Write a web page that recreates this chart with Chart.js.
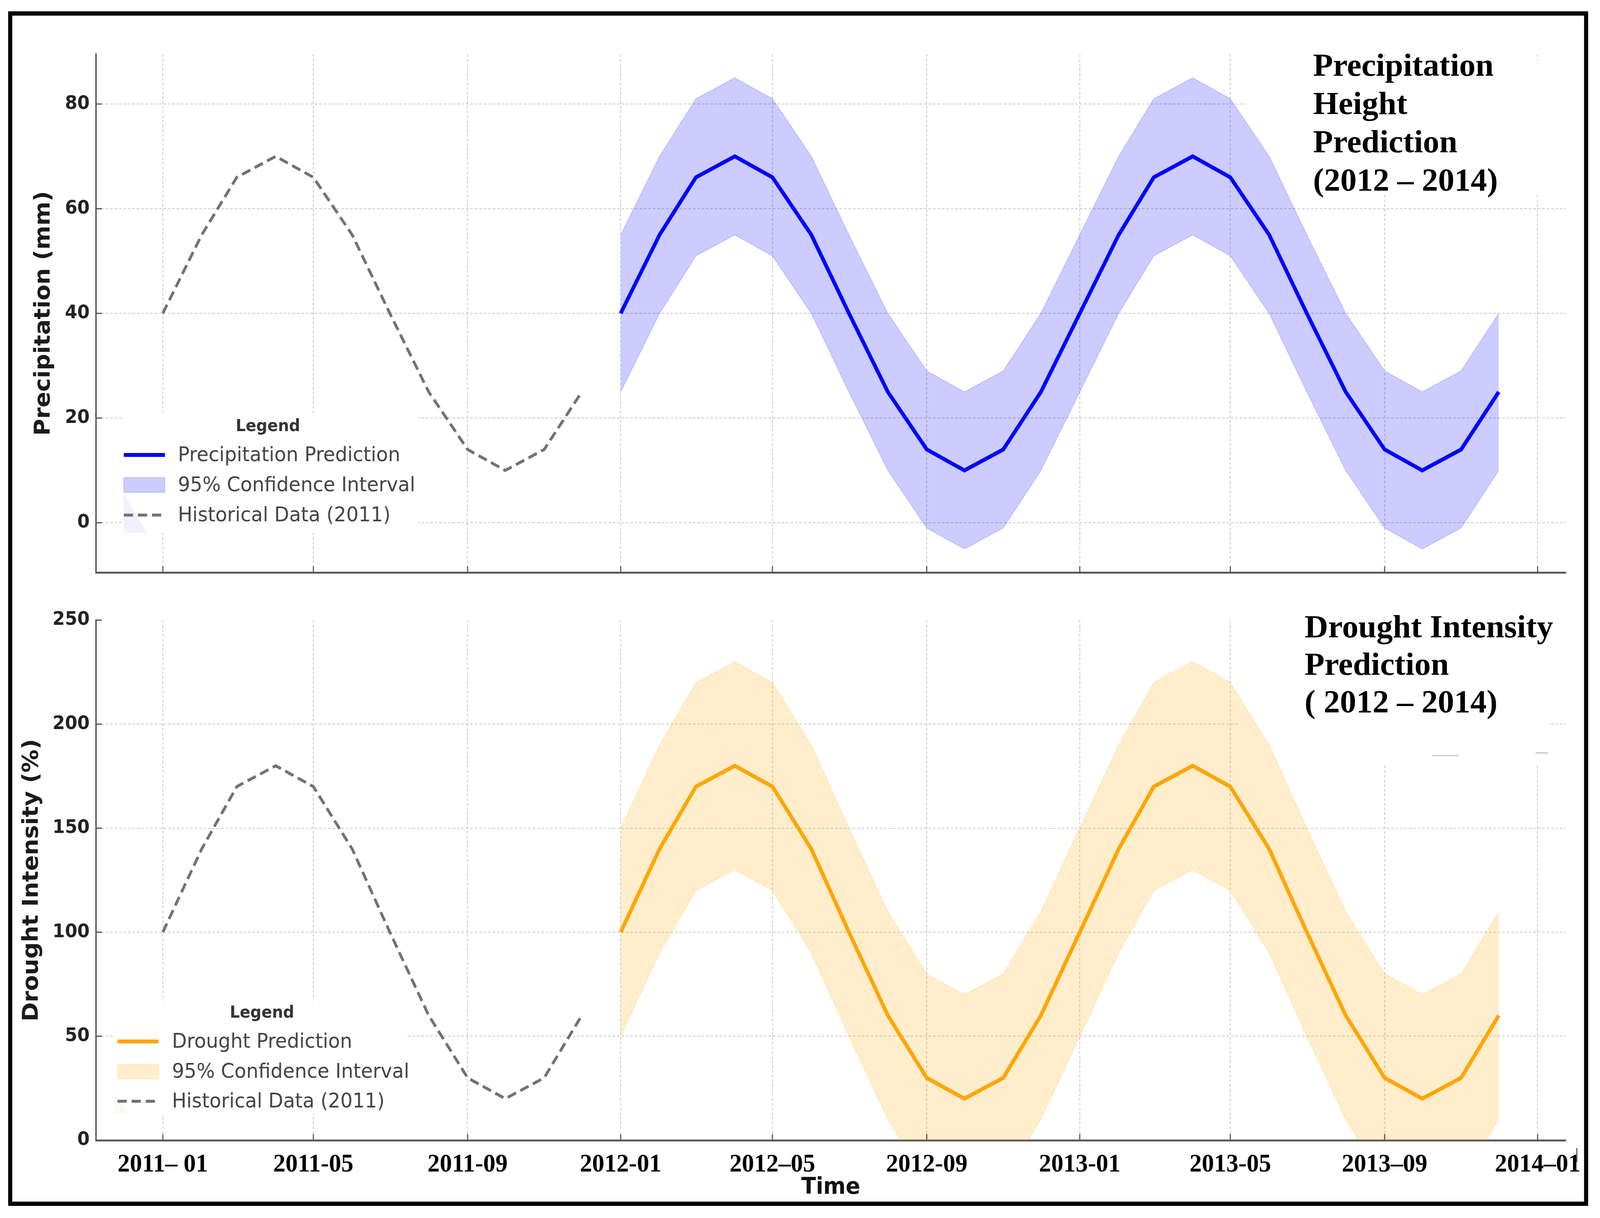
<!DOCTYPE html>
<html><head><meta charset="utf-8">
<script src="https://cdn.jsdelivr.net/npm/chart.js@4.4.0/dist/chart.umd.min.js"></script>
<style>
html,body{margin:0;padding:0;background:#fff;overflow:hidden;}
#wrap{position:absolute;left:0;top:0;width:4317px;height:3119px;transform-origin:0 0;background:#fff;}
#frame{position:absolute;left:22px;top:29px;width:4241px;height:3037px;border:11px solid #000;}
canvas{position:absolute;left:0;}
.note{position:absolute;font-family:'Liberation Serif','Times New Roman',serif;font-weight:bold;font-size:83px;color:#000;white-space:pre;transform:scaleX(1.06);transform-origin:0 0;}
</style></head><body>
<div id="wrap">
<div id="frame"></div>
<canvas id="c1" width="4317" height="1560" style="top:0;width:4317px;height:1560px"></canvas>
<canvas id="c2" width="4317" height="1619" style="top:1500px;width:4317px;height:1619px"></canvas>
<div class="note" style="left:3543px;top:117px;line-height:98px">Precipitation
Height
Prediction
(2012 – 2014)</div>
<div class="note" style="left:3520px;top:1556px;line-height:96px">Drought Intensity
Prediction
( 2012 – 2014)</div>
<div style="position:absolute;left:4253px;top:2940px;width:3px;height:36px;background:#555"></div>
</div>
<script>
// fit the 4317x3119 layout into whatever viewport the browser gives
(function(){
  const w = document.getElementById('wrap');
  const sx = window.innerWidth / 4317, sy = window.innerHeight / 3119;
  w.style.transform = 'scale(' + sx + ',' + sy + ')';
})();

// ---------- data ----------
const histMonths = ['2011-01','2011-02','2011-03','2011-04','2011-05','2011-06','2011-07','2011-08','2011-09','2011-10','2011-11','2011-12'];
const histPrecip = [40,55,66,70,66,55,40,25,14,10,14,25];
const histDrought = [100,140,170,180,170,140,100,60,30,20,30,60];
const predMonths = ['2012-01','2012-02','2012-03','2012-04','2012-05','2012-06','2012-07','2012-08','2012-09','2012-10','2012-11','2012-12',
                    '2013-01','2013-02','2013-03','2013-04','2013-05','2013-06','2013-07','2013-08','2013-09','2013-10','2013-11','2013-12'];
const predPrecip  = [40,55,66,70,66,55,40,25,14,10,14,25, 40,55,66,70,66,55,40,25,14,10,14,25];
const precipUpper = [55,70,81,85,81,70,55,40,29,25,29,40, 55,70,81,85,81,70,55,40,29,25,29,40];
const precipLower = [25,40,51,55,51,40,25,10,-1,-5,-1,10, 25,40,51,55,51,40,25,10,-1,-5,-1,10];
const predDrought  = [100,140,170,180,170,140,100,60,30,20,30,60, 100,140,170,180,170,140,100,60,30,20,30,60];
const droughtUpper = [150,190,220,230,220,190,150,110,80,70,80,110, 150,190,220,230,220,190,150,110,80,70,80,110];
const droughtLower = [50,90,120,130,120,90,50,10,-20,-30,-20,10, 50,90,120,130,120,90,50,10,-20,-30,-20,10];
const xTickMonths = ['2011-01','2011-05','2011-09','2012-01','2012-05','2012-09','2013-01','2013-05','2013-09','2014-01'];
const xTickLabels = ['2011– 01','2011-05','2011-09','2012-01','2012–05','2012-09','2013-01','2013-05','2013–09','2014–01'];
const precipTicks = [0,20,40,60,80];
const droughtTicks = [0,50,100,150,200,250];

// ---------- helpers ----------
const dayOf = s => (Date.UTC(+s.slice(0,4), +s.slice(5,7)-1, 1) - Date.UTC(2011,0,1)) / 864e5;
const pts = (months, vals) => months.map((m,i)=>({x: dayOf(m), y: vals[i]}));
const X_MIN = -53.25, X_MAX = 1118.25;

function maskPlugin(rects, strokes){
  return {id:'mask', beforeDatasetsDraw(chart){
    const ctx = chart.ctx; ctx.save(); ctx.fillStyle='#fff';
    rects.forEach(r=>ctx.fillRect(r[0],r[1],r[2]-r[0],r[3]-r[1]));
    ctx.strokeStyle='#c4c4c4'; ctx.lineWidth=3;
    strokes.forEach(s=>{ctx.beginPath(); ctx.moveTo(s[0],s[1]); ctx.lineTo(s[2],s[3]); ctx.stroke();});
    ctx.restore();
  }};
}
const inTicks = {id:'inTicks', afterDatasetsDraw(chart){
  const {ctx, chartArea:a, scales:{x,y}} = chart;
  ctx.save(); ctx.strokeStyle='#555'; ctx.lineWidth=3;
  x.ticks.forEach(t=>{const p=x.getPixelForValue(t.value); ctx.beginPath(); ctx.moveTo(p,a.bottom); ctx.lineTo(p,a.bottom-16); ctx.stroke();});
  y.ticks.forEach(t=>{const p=y.getPixelForValue(t.value); ctx.beginPath(); ctx.moveTo(a.left,p); ctx.lineTo(a.left+16,p); ctx.stroke();});
  ctx.restore();
}};
function legendPlugin(L){
  return {id:'boxLegend', afterDraw(chart){
    const ctx = chart.ctx; ctx.save();
    ctx.fillStyle='rgba(255,255,255,0.95)';
    ctx.fillRect(L.box[0],L.box[1],L.box[2]-L.box[0],L.box[3]-L.box[1]);
    // faint leftover wedge of the band seen in the corner of the legend
    ctx.fillStyle = L.wedgeColor; ctx.beginPath();
    ctx.moveTo(L.wedge[0],L.wedge[1]); ctx.lineTo(L.wedge[2],L.wedge[3]); ctx.lineTo(L.wedge[4],L.wedge[5]); ctx.closePath(); ctx.fill();
    ctx.textBaseline='middle';
    ctx.fillStyle='#333'; ctx.textAlign='center';
    ctx.font='bold 42px "DejaVu Sans"';
    ctx.fillText('Legend', L.titleX, L.titleY);
    ctx.textAlign='left'; ctx.font='52px "DejaVu Sans"';
    L.items.forEach((it,i)=>{
      const ds = chart.data.datasets[it.ds]; const y = L.rows[i];
      if (it.type==='box'){
        ctx.fillStyle = ds.backgroundColor; ctx.fillRect(L.s0, y-19, L.s1-L.s0, 38);
        ctx.strokeStyle = ds.borderColor; ctx.lineWidth=2; ctx.strokeRect(L.s0, y-19, L.s1-L.s0, 38);
      } else {
        ctx.strokeStyle = ds.borderColor; ctx.lineWidth = ds.borderWidth; ctx.setLineDash(ds.borderDash||[]);
        ctx.beginPath(); ctx.moveTo(L.s0,y); ctx.lineTo(L.s1,y); ctx.stroke(); ctx.setLineDash([]);
      }
      ctx.fillStyle='#444'; ctx.fillText(ds.label, L.tx, y+2);
    });
    ctx.restore();
  }};
}

function makeChart(id, o){
  return new Chart(document.getElementById(id), {
    type:'line',
    data:{datasets:[
      {label:o.predLabel, data:pts(predMonths,o.pred), borderColor:o.color, borderWidth:10, pointRadius:0, fill:false, tension:0},
      {label:'95% Confidence Interval', data:pts(predMonths,o.upper), borderColor:o.edge, borderWidth:2.5, backgroundColor:o.band, pointRadius:0, fill:'+1', tension:0},
      {label:'95% CI lower', data:pts(predMonths,o.lower), borderColor:o.edge, borderWidth:2.5, pointRadius:0, fill:false, tension:0},
      {label:'Historical Data (2011)', data:pts(histMonths,o.hist), borderColor:'#727272', borderWidth:7.5, borderDash:[25,13], pointRadius:0, fill:false, tension:0}
    ]},
    options:{
      responsive:false, animation:false, devicePixelRatio:1,
      layout:{padding:{left:20,right:93,top:o.padTop,bottom:0}},
      plugins:{legend:{display:false}, tooltip:{enabled:false}},
      scales:{
        x:{type:'linear', min:X_MIN, max:X_MAX,
          afterBuildTicks:s=>{s.ticks = xTickMonths.map(m=>({value:dayOf(m)}));},
          afterFit:s=>{s.height=o.xH;},
          ticks:{display:o.showX, autoSkip:false, maxRotation:0, minRotation:0, padding:23, color:'#000',
            font:{family:'Liberation Serif', weight:'bold', size:66}, callback:(v,i)=>xTickLabels[i]},
          grid:{color:'rgba(200,200,200,0.9)', lineWidth:2.5, drawTicks:false},
          border:{display:true, color:'#5c5c5c', width:5, dash:[7,5]},
          title:{display:o.showX, text:'Time', color:'#111', font:{family:'DejaVu Sans', weight:'bold', size:58}, padding:{top:0,bottom:42}}
        },
        y:{type:'linear', min:o.yMin, max:o.yMax,
          afterBuildTicks:s=>{s.ticks = o.yTicks.map(v=>({value:v}));},
          afterFit:s=>{s.width=239;},
          ticks:{padding:17, color:'#222', font:{family:'DejaVu Sans', weight:'bold', size:48}},
          grid:{color:c=>(c.tick && (c.tick.value===0 && o.yMin===0 || c.tick.value===o.yMax)) ? 'rgba(0,0,0,0)' : 'rgba(200,200,200,0.9)', lineWidth:2.5, drawTicks:false},
          border:{display:true, color:'#5c5c5c', width:4, dash:[7,5]},
          title:{display:true, text:o.yTitle, color:'#1a1a1a', font:{family:'DejaVu Sans', weight:'bold', size:59}, padding:{top:o.yTitlePad,bottom:0}}
        }
      }
    },
    plugins:[maskPlugin(o.masks, o.strokes), inTicks, legendPlugin(o.legend)]
  });
}

makeChart('c1', {
  predLabel:'Precipitation Prediction', pred:predPrecip, upper:precipUpper, lower:precipLower, hist:histPrecip,
  color:'#0000ff', band:'rgba(0,0,255,0.2)', edge:'rgba(0,0,255,0.16)',
  padTop:139, xH:94, showX:false, yMin:-9.5, yMax:89.5, yTicks:precipTicks,
  yTitle:'Precipitation (mm)', yTitlePad:63.6,
  masks:[[3360,155,4230,340],[3469,155,4230,495]], strokes:[],
  legend:{box:[331,1057,1128,1364], titleX:723, titleY:1093, rows:[1165,1242,1319], s0:334, s1:445, tx:480,
          wedge:[334,1263,334,1364,396,1364], wedgeColor:'rgba(0,0,255,0.06)',
          items:[{ds:0,type:'line'},{ds:1,type:'box'},{ds:3,type:'line'}]}
});
makeChart('c2', {
  predLabel:'Drought Prediction', pred:predDrought, upper:droughtUpper, lower:droughtLower, hist:histDrought,
  color:'#ffa500', band:'rgba(255,165,0,0.2)', edge:'rgba(255,165,0,0.16)',
  padTop:88, xH:199, showX:true, yMin:0, yMax:250, yTicks:droughtTicks,
  yTitle:'Drought Intensity (%)', yTitlePad:31.6,
  masks:[[3345,92,4179,458]], strokes:[[3864,435,3936,435],[4143,428,4176,428]],
  legend:{box:[307,1062,1095,1353], titleX:707, titleY:1095, rows:[1167,1244,1320], s0:317, s1:428, tx:464,
          wedge:[307,1292,307,1353,347,1353], wedgeColor:'rgba(255,165,0,0.06)',
          items:[{ds:0,type:'line'},{ds:1,type:'box'},{ds:3,type:'line'}]}
});
</script>
</body></html>
